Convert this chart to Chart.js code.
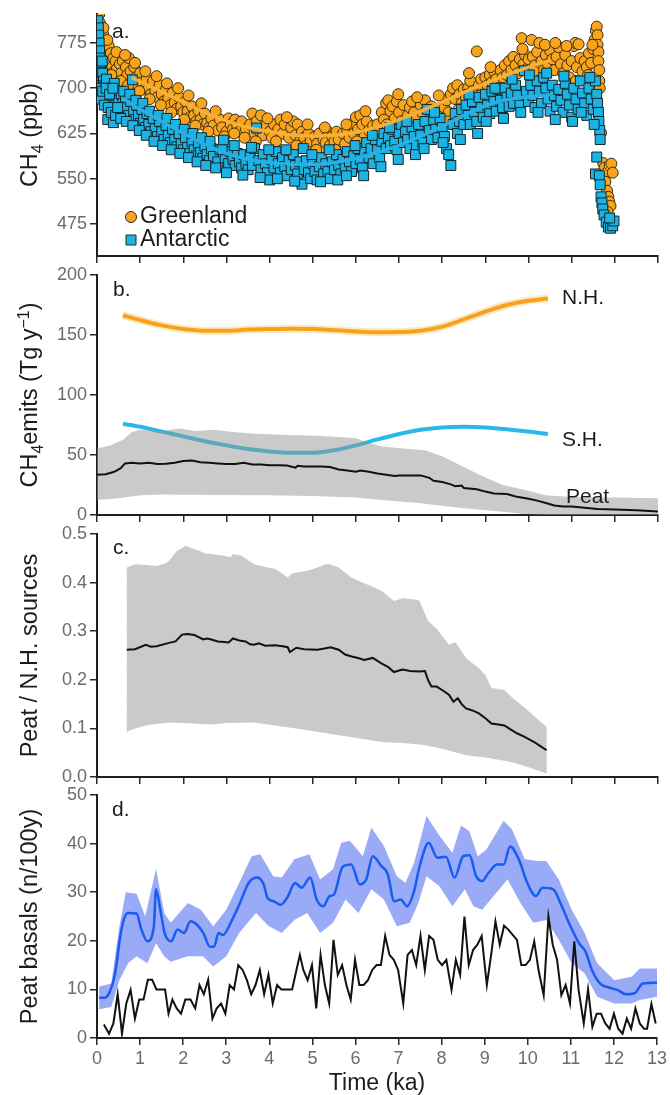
<!DOCTYPE html>
<html><head><meta charset="utf-8">
<script src="https://cdn.jsdelivr.net/npm/chart.js@4.4.1/dist/chart.umd.min.js"></script>
<style>
html,body{margin:0;padding:0;background:#fff;}
body{width:670px;height:1095px;overflow:hidden;position:relative;}
.p{position:absolute;left:0;}
</style></head>
<body>
<canvas id="ca" class="p" width="670" height="280" style="top:-4px"></canvas>
<canvas id="cb" class="p" width="670" height="278" style="top:257px"></canvas>
<canvas id="cc" class="p" width="670" height="281" style="top:516px"></canvas>
<canvas id="cd" class="p" width="670" height="318" style="top:777px"></canvas>
<script>
const FONT = '"Liberation Sans", Arial, Helvetica, sans-serif';
// ---------- tick values ----------
const xTickVals = [0,1,2,3,4,5,6,7,8,9,10,11,12,13];
const aTicks = [475,550,625,700,775];
const bTicks = [0,50,100,150,200];
const cTicks = [0,0.1,0.2,0.3,0.4,0.5];
const dTicks = [0,10,20,30,40,50];

// ---------- panel a: CH4 (ppb) ----------
const greenland = [[0.05,822],[0.07,808],[0.09,795],[0.1,782],[0.12,770],[0.14,790],[0.16,760],[0.18,775],[0.2,752],[0.22,765],[0.25,745],[0.27,770],[0.3,740],[0.32,758],[0.35,735],[0.38,750],[0.4,728],[0.43,745],[0.46,732],[0.5,718],[0.53,740],[0.56,725],[0.6,745],[0.63,715],[0.67,735],[0.7,722],[0.74,750],[0.78,728],[0.82,712],[0.86,735],[0.9,718],[0.95,705],[1.0,725],[1.05,710],[1.1,698],[1.15,715],[1.2,700],[1.25,690],[1.3,712],[1.35,695],[1.4,685],[1.45,705],[1.5,690],[1.55,678],[1.6,698],[1.65,683],[1.7,672],[1.75,692],[1.8,676],[1.85,666],[1.9,685],[1.95,670],[2.0,660],[2.05,678],[2.1,662],[2.15,652],[2.2,670],[2.25,655],[2.3,645],[2.35,663],[2.4,648],[2.45,640],[2.5,658],[2.55,642],[2.6,635],[2.65,650],[2.7,638],[2.8,630],[2.85,648],[2.9,635],[3.0,628],[3.05,650],[3.1,640],[3.15,632],[3.2,648],[3.25,638],[3.3,628],[3.35,645],[3.45,632],[3.55,640],[3.6,658],[3.65,625],[3.7,645],[3.75,630],[3.8,655],[3.85,622],[3.9,638],[4.0,628],[4.05,618],[4.1,640],[4.2,632],[4.25,648],[4.3,625],[4.35,640],[4.45,618],[4.5,635],[4.55,645],[4.6,622],[4.65,640],[4.7,612],[4.75,628],[4.8,618],[4.85,605],[4.9,625],[4.95,612],[5.0,590],[5.05,620],[5.1,608],[5.15,625],[5.2,600],[5.25,615],[5.3,610],[5.35,628],[5.4,605],[5.45,620],[5.5,612],[5.55,628],[5.6,615],[5.7,625],[5.75,608],[5.8,630],[5.85,618],[5.9,640],[5.95,625],[6.0,652],[6.05,632],[6.1,655],[6.15,640],[6.2,620],[6.25,645],[6.3,630],[6.4,638],[6.45,622],[6.5,640],[6.55,628],[6.6,660],[6.65,648],[6.7,675],[6.75,680],[6.8,662],[6.85,670],[6.9,650],[6.95,678],[7.0,660],[7.05,645],[7.1,672],[7.2,655],[7.25,668],[7.3,678],[7.35,660],[7.4,650],[7.5,672],[7.55,658],[7.6,680],[7.65,665],[7.7,648],[7.75,670],[7.8,655],[7.85,640],[7.9,665],[8.0,650],[8.05,668],[8.1,680],[8.15,660],[8.2,690],[8.25,700],[8.3,682],[8.35,705],[8.4,690],[8.45,675],[8.5,698],[8.55,685],[8.6,700],[8.65,712],[8.7,695],[8.8,761],[8.85,705],[8.9,715],[8.95,700],[9.0,718],[9.05,705],[9.1,722],[9.15,710],[9.2,728],[9.25,715],[9.3,700],[9.35,730],[9.4,718],[9.45,738],[9.5,722],[9.55,745],[9.6,730],[9.65,752],[9.7,738],[9.75,725],[9.8,748],[9.84,783],[9.88,740],[9.92,755],[9.96,732],[10.0,748],[10.07,780],[10.1,752],[10.15,738],[10.2,760],[10.25,775],[10.3,745],[10.35,730],[10.4,755],[10.45,740],[10.5,762],[10.55,748],[10.6,730],[10.65,752],[10.7,768],[10.75,740],[10.8,725],[10.85,755],[10.9,738],[10.95,718],[11.0,745],[11.05,770],[11.08,775],[11.12,735],[11.16,773],[11.2,750],[11.25,728],[11.3,745],[11.35,735],[11.4,758],[11.45,742],[11.5,765],[11.53,780],[11.56,795],[11.58,802],[11.6,788],[11.6,772],[11.62,760],[11.62,745],[11.64,730],[11.64,712],[11.65,700],[11.68,626],[11.73,576],[11.76,568],[11.8,558],[11.84,562],[11.88,572],[11.92,575],[11.95,560],[11.78,545],[11.82,530],[11.85,520],[11.87,512],[11.9,505],[11.83,495],
  [0.15,800],[0.24,780],[0.33,722],[0.45,760],[0.55,712],[0.65,755],[0.72,705],[0.88,742],[0.98,695],[1.12,728],[1.22,682],[1.38,720],[1.48,672],[1.62,708],[1.72,660],[1.88,700],[2.02,648],[2.12,688],[2.28,638],[2.42,675],[2.58,628],[2.75,662],[2.95,620],[3.18,625],[3.42,618],[3.68,612],[3.95,650],[4.15,612],[4.4,652],[4.62,605],[4.88,640],[5.08,598],[5.28,635],[5.52,598],[5.78,640],[6.02,612],[6.22,662],[6.48,612],[6.72,640],[6.98,690],[7.18,640],[7.42,685],[7.68,632],[7.92,688],[8.12,645],[8.38,665],[8.62,725],[8.88,688],[9.12,735],[9.38,700],[9.62,712],[9.86,765],[10.12,728],[10.38,772],[10.62,775],[10.88,770],[11.1,712],[11.38,722],[11.48,772]];
const antarctic = [[0.02,812],[0.03,800],[0.04,788],[0.05,775],[0.06,762],[0.07,750],[0.08,738],[0.09,726],[0.1,715],[0.11,705],[0.12,745],[0.13,725],[0.14,698],[0.15,712],[0.16,690],[0.18,705],[0.2,688],[0.22,715],[0.24,695],[0.25,648],[0.27,680],[0.3,700],[0.32,690],[0.34,675],[0.36,685],[0.38,643],[0.4,708],[0.42,690],[0.44,672],[0.47,695],[0.5,680],[0.53,665],[0.56,690],[0.6,675],[0.63,660],[0.66,685],[0.7,668],[0.74,655],[0.78,678],[0.82,714],[0.85,662],[0.88,648],[0.92,672],[0.96,655],[1.0,642],[1.04,665],[1.08,648],[1.12,635],[1.16,658],[1.2,640],[1.25,628],[1.3,650],[1.35,633],[1.4,620],[1.45,645],[1.5,628],[1.55,615],[1.6,638],[1.65,622],[1.7,610],[1.75,632],[1.8,615],[1.85,603],[1.9,625],[1.95,608],[2.0,598],[2.05,618],[2.1,602],[2.15,592],[2.2,612],[2.25,598],[2.3,588],[2.35,608],[2.4,594],[2.45,584],[2.5,604],[2.55,590],[2.6,580],[2.65,600],[2.7,587],[2.8,578],[2.85,598],[2.93,614],[2.97,585],[3.05,575],[3.1,595],[3.15,582],[3.2,572],[3.25,592],[3.3,578],[3.35,568],[3.4,590],[3.45,575],[3.5,565],[3.55,588],[3.6,572],[3.65,600],[3.7,634],[3.75,580],[3.8,565],[3.85,590],[3.9,575],[3.95,560],[4.0,548],[4.05,582],[4.1,568],[4.15,595],[4.2,575],[4.25,560],[4.3,585],[4.35,570],[4.4,555],[4.45,580],[4.5,565],[4.55,590],[4.6,572],[4.65,558],[4.7,578],[4.75,541],[4.8,565],[4.85,580],[4.9,560],[4.95,550],[5.0,575],[5.05,562],[5.1,548],[5.15,570],[5.2,585],[5.25,558],[5.3,575],[5.35,562],[5.4,550],[5.45,578],[5.5,565],[5.55,590],[5.6,572],[5.65,558],[5.7,582],[5.75,568],[5.8,595],[5.85,578],[5.9,562],[5.95,588],[6.0,575],[6.05,600],[6.1,582],[6.15,568],[6.2,595],[6.25,610],[6.3,585],[6.35,600],[6.4,575],[6.45,615],[6.5,598],[6.55,585],[6.6,612],[6.65,625],[6.7,600],[6.75,618],[6.8,605],[6.85,632],[6.9,612],[6.95,598],[7.0,625],[7.05,640],[7.1,610],[7.15,628],[7.2,615],[7.25,600],[7.3,635],[7.35,620],[7.4,605],[7.45,640],[7.5,622],[7.55,610],[7.6,645],[7.65,665],[7.7,630],[7.75,615],[7.8,648],[7.85,632],[7.9,618],[7.95,650],[8.0,635],[8.05,620],[8.1,600],[8.15,590],[8.2,572],[8.25,640],[8.3,658],[8.35,625],[8.4,645],[8.45,665],[8.5,640],[8.55,672],[8.6,655],[8.65,640],[8.7,678],[8.75,660],[8.8,645],[8.85,685],[8.9,668],[8.95,652],[9.0,690],[9.05,672],[9.1,658],[9.15,695],[9.2,678],[9.25,662],[9.3,698],[9.35,680],[9.4,668],[9.45,700],[9.5,685],[9.55,670],[9.6,692],[9.65,675],[9.7,705],[9.75,688],[9.8,672],[9.9,729],[9.95,695],[10.0,678],[10.05,705],[10.1,688],[10.15,668],[10.2,712],[10.25,695],[10.3,675],[10.35,718],[10.4,700],[10.45,682],[10.5,662],[10.55,705],[10.6,688],[10.65,670],[10.7,698],[10.75,680],[10.8,660],[10.85,708],[10.9,690],[10.95,672],[11.0,652],[11.05,700],[11.1,682],[11.15,665],[11.2,712],[11.25,692],[11.3,675],[11.35,655],[11.4,700],[11.45,682],[11.5,665],[11.55,712],[11.58,690],[11.6,675],[11.62,660],[11.63,645],[11.65,630],[11.66,615],[11.58,586],[11.55,558],[11.64,555],[11.66,540],[11.68,520],[11.7,510],[11.72,500],[11.75,490],[11.8,478],[11.85,470],[11.9,468],[11.95,472],[11.98,480],[11.88,485],
  [0.05,700],[0.08,690],[0.1,682],[0.13,695],[0.17,672],[0.21,700],[0.26,668],[0.29,690],[0.33,660],[0.37,700],[0.43,655],[0.48,668],[0.55,650],[0.62,695],[0.68,645],[0.76,690],[0.83,638],[0.9,680],[0.98,630],[1.06,675],[1.14,622],[1.22,662],[1.32,612],[1.42,655],[1.52,605],[1.62,650],[1.72,598],[1.82,640],[1.92,592],[2.02,632],[2.12,585],[2.22,625],[2.32,578],[2.42,618],[2.52,572],[2.62,612],[2.75,568],[2.9,598],[3.0,560],[3.18,605],[3.38,556],[3.58,602],[3.78,552],[3.98,598],[4.18,550],[4.38,598],[4.58,546],[4.78,600],[4.98,590],[5.18,545],[5.38,598],[5.58,548],[5.78,555],[5.98,605],[6.18,555],[6.38,622],[6.58,570],[6.78,635],[6.98,582],[7.18,645],[7.38,590],[7.58,600],[7.82,660],[8.02,610],[8.42,615],[8.62,690],[8.82,625],[9.02,645],[9.22,700],[9.42,650],[9.62,715],[9.82,660],[10.02,722],[10.22,660],[10.42,725],[10.62,648],[10.82,720],[11.02,645],[11.22,660],[11.42,718],[11.52,640]];
const greenFit = [[0.8,718],[1.0,711],[1.5,694],[2.0,677],[2.5,660],[3.0,646],[3.5,635],[4.0,628],[4.5,623],[5.0,621],[5.5,622],[6.0,627],[6.5,636],[7.0,648],[7.5,662],[8.0,677],[8.5,693],[9.0,708],[9.5,722],[10.0,735],[10.5,746]];
const antFit = [[0.6,683],[1.0,665],[1.5,645],[2.0,625],[2.5,607],[3.0,592],[3.5,582],[4.0,577],[4.5,574],[5.0,574],[5.5,577],[6.0,584],[6.5,594],[7.0,605],[7.5,620],[8.0,637],[8.5,655],[9.0,671],[9.5,681],[10.0,686],[10.5,689]];

// ---------- panel b: CH4 emissions (Tg/y) ----------
const nhEmit = [[0.6,166.5],[1.0,162.5],[1.5,158],[2.0,155],[2.5,153.5],[3.0,153.5],[3.5,154.5],[4.0,155],[4.5,155.3],[5.0,155],[5.5,154],[6.0,153],[6.5,152.3],[7.0,152.5],[7.5,153.5],[8.0,157],[8.5,163],[9.0,169.5],[9.5,175],[10.0,178.5],[10.45,180.5]];
const shEmit = [[0.6,76],[1.0,73.5],[1.5,69.5],[2.0,65.5],[2.5,61.5],[3.0,58],[3.5,55],[4.0,53],[4.5,51.8],[5.0,51.8],[5.5,54],[6.0,58],[6.5,63],[7.0,67.5],[7.5,71],[8.0,73],[8.5,73.5],[9.0,73],[9.5,71.5],[10.0,69.5],[10.45,67.5]];
const peatEmit = [[0,33.5],[0.2,34],[0.4,36],[0.55,39],[0.65,43],[0.8,43.5],[1.0,43],[1.2,43.5],[1.4,42.5],[1.6,42.8],[1.8,43.5],[2.0,45],[2.2,45.5],[2.4,44],[2.6,43.5],[2.8,43],[3.0,42.5],[3.2,42.5],[3.4,43.5],[3.6,42],[3.8,42],[4.0,41.5],[4.2,41.5],[4.4,41.2],[4.6,39.5],[4.65,41],[4.8,40.5],[5.0,40.5],[5.2,40.5],[5.4,40],[5.6,38],[5.8,37],[6.0,36],[6.1,37],[6.3,36],[6.5,34.5],[6.7,33.5],[6.9,32.5],[7.0,33],[7.3,33],[7.5,33],[7.7,31],[7.8,28.5],[8.0,27.5],[8.2,25.5],[8.3,24],[8.45,24.5],[8.5,22.5],[8.8,21.5],[9.0,19.5],[9.2,18],[9.5,17.5],[9.7,15.5],[10.0,13.5],[10.2,12],[10.4,10],[10.6,8],[10.8,7],[11.0,7],[11.3,6],[11.6,5],[12,4.5],[12.5,4],[13,3]];
const peatEmitHi = [[0,55.5],[0.3,58],[0.6,62.5],[0.8,69],[1.0,71],[1.5,70],[1.9,72],[2.3,70],[2.7,71],[3.2,69],[3.6,68],[4.1,67],[4.6,66.5],[5.1,66],[5.6,65],[6.0,64],[6.3,60],[6.6,57],[7.1,55.5],[7.6,54],[8.0,49],[8.5,40],[8.9,33],[9.4,25],[9.9,21],[10.4,16.5],[11,15],[12,14.5],[13,14]];
const peatEmitLo = [[0,12.5],[0.5,14],[1,16.5],[1.5,17],[2,16.8],[3,16.7],[4,16.5],[5,15.8],[6,14.5],[6.6,12.5],[7.5,9.8],[8.5,5.6],[9.4,2.8],[9.9,0.8],[10.4,0],[13,0]];

// ---------- panel c: Peat / N.H. sources ----------
const ratio = [[0.69,0.262],[0.88,0.263],[1.13,0.272],[1.25,0.268],[1.38,0.269],[1.67,0.276],[1.82,0.279],[1.97,0.293],[2.1,0.294],[2.26,0.292],[2.46,0.283],[2.55,0.285],[2.65,0.283],[2.8,0.279],[2.95,0.278],[3.05,0.277],[3.15,0.285],[3.3,0.281],[3.44,0.279],[3.55,0.273],[3.64,0.272],[3.75,0.275],[3.9,0.270],[4.13,0.271],[4.3,0.269],[4.42,0.267],[4.47,0.257],[4.62,0.266],[4.8,0.263],[5.11,0.262],[5.3,0.265],[5.41,0.267],[5.6,0.262],[5.75,0.252],[5.9,0.248],[6.05,0.245],[6.19,0.241],[6.39,0.245],[6.59,0.234],[6.75,0.226],[6.88,0.216],[7.08,0.221],[7.25,0.218],[7.47,0.217],[7.6,0.218],[7.67,0.200],[7.75,0.186],[7.87,0.186],[8.05,0.176],[8.16,0.169],[8.26,0.155],[8.36,0.162],[8.45,0.150],[8.55,0.141],[8.7,0.137],[8.85,0.131],[9.0,0.121],[9.14,0.110],[9.3,0.108],[9.44,0.106],[9.6,0.097],[9.73,0.090],[9.9,0.083],[10.13,0.072],[10.3,0.062],[10.42,0.055]];
const ratioHi = [[0.69,0.431],[0.88,0.438],[1.13,0.436],[1.38,0.434],[1.6,0.440],[1.67,0.445],[1.85,0.465],[2.06,0.476],[2.2,0.470],[2.36,0.466],[2.5,0.460],[2.65,0.459],[2.95,0.455],[3.1,0.452],[3.15,0.459],[3.35,0.455],[3.64,0.438],[3.9,0.432],[4.13,0.428],[4.3,0.418],[4.42,0.410],[4.5,0.418],[4.62,0.421],[4.9,0.425],[5.11,0.431],[5.3,0.438],[5.41,0.437],[5.6,0.431],[5.9,0.410],[6.2,0.398],[6.35,0.393],[6.59,0.383],[6.88,0.362],[7.1,0.368],[7.35,0.365],[7.47,0.363],[7.67,0.321],[7.87,0.305],[8.0,0.290],[8.16,0.272],[8.3,0.278],[8.4,0.265],[8.55,0.245],[8.85,0.224],[9.0,0.210],[9.14,0.183],[9.44,0.179],[9.6,0.165],[9.93,0.141],[10.2,0.120],[10.42,0.103]];
const ratioLo = [[0.69,0.093],[0.88,0.100],[1.18,0.107],[1.67,0.112],[2.2,0.110],[2.65,0.108],[3.0,0.111],[3.64,0.112],[4.2,0.105],[4.62,0.100],[5.1,0.093],[5.6,0.086],[6.1,0.079],[6.59,0.072],[7.1,0.070],[7.57,0.066],[8.0,0.058],[8.55,0.045],[9.0,0.040],[9.6,0.031],[10.0,0.020],[10.42,0.007]];

// ---------- panel d: Peat basals (n/100y) ----------
const basalsSmooth = [[0.05,8.3],[0.18,8.3],[0.28,9.2],[0.42,13.3],[0.54,20.9],[0.62,24.3],[0.72,25.7],[0.92,25.6],[1.02,22.6],[1.17,19.9],[1.32,23],[1.37,30.6],[1.47,26.4],[1.57,21.6],[1.72,19.9],[1.87,22.3],[2.02,21.6],[2.17,24],[2.32,23.3],[2.47,21.6],[2.62,18.8],[2.72,18.8],[2.82,21.6],[2.92,21.2],[3.12,24],[3.32,27.8],[3.52,31.9],[3.72,33],[3.87,31.6],[3.96,28.8],[4.11,28.1],[4.26,27.4],[4.41,28.8],[4.6,31.9],[4.75,30.9],[4.95,33],[5.1,28.5],[5.25,27.1],[5.4,29.2],[5.5,29.5],[5.7,35.2],[5.9,35.7],[6.1,31.6],[6.25,32.6],[6.4,37.4],[6.6,35.4],[6.75,33.7],[6.9,28.1],[7.05,28.5],[7.2,27.1],[7.35,29.9],[7.5,35.7],[7.7,40.2],[7.9,37.1],[8.1,37.3],[8.3,33],[8.5,37.4],[8.65,37.6],[8.8,33.3],[8.94,32.3],[9.09,34],[9.29,35.7],[9.44,35.7],[9.59,39.4],[9.79,36.8],[9.99,31.9],[10.19,29.2],[10.34,30.9],[10.59,30.6],[10.79,27.1],[10.99,23],[11.19,19.5],[11.34,17.8],[11.49,14],[11.68,11.2],[11.88,10.4],[12.08,9.9],[12.28,9],[12.48,9.2],[12.67,11.2],[13.0,11.4]];
const basalsHi = [[0.05,10.6],[0.33,11.2],[0.52,23],[0.67,30],[0.92,29.7],[1.12,25],[1.37,34.8],[1.56,25.7],[1.71,23.7],[2.11,27.8],[2.41,26.4],[2.7,23],[3.0,26.4],[3.3,31.9],[3.59,37.4],[3.79,37.8],[4.09,33.3],[4.29,33],[4.58,36.8],[4.93,37.8],[5.18,32.6],[5.48,34.7],[5.67,40.2],[5.87,40.6],[6.17,37.4],[6.37,43.3],[6.66,39.5],[6.96,33.3],[7.16,31.9],[7.36,36],[7.65,45.7],[7.95,41.6],[8.25,38.1],[8.45,43.7],[8.64,42.6],[8.84,37.4],[9.04,38.8],[9.44,44.7],[9.63,43],[9.93,36.8],[10.23,36.4],[10.43,36.4],[10.72,32.6],[11.02,26.4],[11.32,21.6],[11.61,15.4],[12.01,11.9],[12.41,12.6],[12.6,14.3],[13,14.3]];
const basalsLo = [[0.05,5.9],[0.33,6.4],[0.52,11.9],[0.72,15.4],[0.92,16.8],[1.17,15.4],[1.37,19.5],[1.56,16.8],[1.71,15.7],[2.11,16.8],[2.46,16.8],[2.7,14.7],[3.0,16.8],[3.3,21.6],[3.69,25.7],[3.99,23],[4.29,21.6],[4.58,24.3],[4.88,25.7],[5.18,21.6],[5.48,23.7],[5.77,28.5],[6.07,25.7],[6.37,30.6],[6.66,28.5],[6.96,23],[7.26,23.7],[7.46,27.8],[7.65,33.3],[7.95,31.2],[8.25,27.1],[8.54,30.6],[8.74,27.1],[8.94,26.4],[9.14,28.5],[9.53,32.6],[9.83,27.8],[10.13,23.7],[10.43,24.3],[10.72,20.2],[11.02,15.4],[11.32,13.3],[11.61,8.5],[12.01,7.1],[12.41,7.1],[12.6,7.8],[13,8.5]];
const basalsCount = [[0.16,2.8],[0.28,0.9],[0.38,3],[0.48,9],[0.58,0.9],[0.68,7.1],[0.78,9.9],[0.88,4],[0.98,7.9],[1.08,7.9],[1.18,12],[1.28,12],[1.38,10],[1.48,10],[1.58,10],[1.66,5],[1.75,7.9],[1.85,6.1],[1.95,5],[2.05,7.9],[2.17,7.9],[2.28,6.1],[2.38,10.9],[2.48,9],[2.58,12],[2.68,4],[2.78,6.1],[2.88,7.1],[2.98,5],[3.08,10.9],[3.18,10],[3.28,15],[3.38,14],[3.48,11.9],[3.58,9],[3.68,10.9],[3.78,14],[3.88,9],[3.98,13],[4.08,7.1],[4.18,10.9],[4.28,10],[4.43,10],[4.53,10],[4.63,14],[4.71,17.1],[4.79,14],[4.89,11.9],[4.99,15],[5.09,6.1],[5.19,17.1],[5.29,10.9],[5.39,7.1],[5.49,20.2],[5.59,13],[5.69,15],[5.79,10.9],[5.89,7.9],[5.99,16.1],[6.09,10.9],[6.19,10.9],[6.29,11.9],[6.39,14],[6.49,15],[6.59,15],[6.69,21],[6.79,17.1],[6.89,16.1],[6.99,14],[7.11,7.1],[7.21,17.1],[7.31,18.1],[7.41,15],[7.51,21],[7.61,14],[7.71,21],[7.81,20.2],[7.91,16.1],[8.01,15],[8.11,16.1],[8.23,9.9],[8.33,16.1],[8.43,13],[8.53,25],[8.63,15],[8.73,18.1],[8.83,19.2],[8.93,21],[9.05,10.9],[9.15,17.1],[9.25,24],[9.35,19.2],[9.45,23.1],[9.55,22.3],[9.65,21.2],[9.75,20.2],[9.85,15],[9.95,15],[10.05,16.1],[10.15,19.9],[10.25,14],[10.37,8.8],[10.48,25],[10.58,19.2],[10.68,16.1],[10.78,8.8],[10.88,10.9],[10.98,7.1],[11.08,19.9],[11.18,9.9],[11.3,3],[11.4,10],[11.5,2.3],[11.6,5],[11.7,5],[11.8,3],[11.9,1.9],[12.0,5],[12.1,1.9],[12.2,0.9],[12.3,4],[12.4,1.9],[12.5,6.1],[12.6,3],[12.7,1.9],[12.77,1.9],[12.87,7],[12.97,3]];

// ---------- helpers ----------
const xy = a => a.map(([x,y]) => ({x, y}));
const band = (hi, lo) => xy(hi.concat(lo.slice().reverse()));

function richWidth(ctx, segs, size){
  let w = 0;
  segs.forEach(s => { ctx.font = `${(s.sub||s.sup)?size*0.68:size}px ${FONT}`; w += ctx.measureText(s.t).width; });
  return w;
}
const decor = {
  id: 'decor',
  afterDatasetsDraw(chart, args, o){
    const ctx = chart.ctx, off = o.top, ca = chart.chartArea;
    ctx.save();
    ctx.fillStyle = '#1c1c1c';
    ctx.textAlign = 'left';
    ctx.textBaseline = 'middle';
    (o.texts || []).forEach(t => {
      ctx.font = `${t.size}px ${FONT}`;
      ctx.fillText(t.t, t.x, t.y - off);
    });
    (o.legend || []).forEach(l => {
      const y = l.y - off;
      ctx.fillStyle = l.color; ctx.strokeStyle = '#2b2b2b'; ctx.lineWidth = 1;
      ctx.beginPath();
      if (l.style === 'circle') ctx.arc(l.mx, y, 5.5, 0, Math.PI*2);
      else ctx.rect(l.mx - 5, y - 5, 10, 10);
      ctx.fill(); ctx.stroke();
      ctx.fillStyle = '#1c1c1c';
      ctx.font = `${l.size}px ${FONT}`;
      ctx.fillText(l.label, l.tx, y);
    });
    if (o.ytitle){
      const size = o.ysize;
      const cy = (ca.top + ca.bottom) / 2;
      ctx.translate(o.yx, cy);
      ctx.rotate(-Math.PI/2);
      const w = richWidth(ctx, o.ytitle, size);
      let x = -w/2;
      ctx.textBaseline = 'alphabetic';
      const base = size*0.36;
      o.ytitle.forEach(s => {
        const fs = (s.sub||s.sup) ? size*0.68 : size;
        ctx.font = `${fs}px ${FONT}`;
        const dy = s.sub ? size*0.22 : (s.sup ? -size*0.36 : 0);
        ctx.fillText(s.t, x, base + dy);
        x += ctx.measureText(s.t).width;
      });
    }
    ctx.restore();
  }
};

function makeOptions(cfg){
  return {
    responsive: false, animation: false, devicePixelRatio: 1,
    layout: { padding: { top: cfg.padTop, bottom: cfg.padBottom, left: 0, right: 12 } },
    elements: { line: { tension: 0 } },
    plugins: { legend: { display: false }, tooltip: { enabled: false }, decor: cfg.decor },
    scales: {
      x: {
        type: 'linear', min: 0, max: 13,
        afterBuildTicks: s => { s.ticks = xTickVals.map(v => ({ value: v })); },
        afterFit: s => { s.height = cfg.xHeight; },
        grid: { drawOnChartArea: false, drawTicks: true, tickLength: 7, color: '#2a2a2a', lineWidth: 1.5 },
        border: { display: true, color: '#1f1f1f', width: 2 },
        ticks: { display: cfg.xLabels, color: '#6b6b6b', font: { size: 18, family: FONT }, padding: 3, maxRotation: 0, autoSkip: false },
        title: { display: cfg.xLabels, text: 'Time (ka)', color: '#1c1c1c', font: { size: 23, family: FONT, lineHeight: 1 }, padding: { top: 0, bottom: 0 } }
      },
      y: {
        type: 'linear', min: cfg.ymin, max: cfg.ymax,
        afterBuildTicks: s => { s.ticks = cfg.yticks.map(v => ({ value: v })); },
        afterFit: s => { s.width = 97; },
        grid: { drawOnChartArea: false, drawTicks: true, tickLength: 7, color: '#2a2a2a', lineWidth: 1.5 },
        border: { display: true, color: '#1f1f1f', width: 2 },
        ticks: { color: '#6b6b6b', font: { size: 18, family: FONT }, padding: 3, autoSkip: false,
                 callback: cfg.yfmt || (v => String(v)) }
      }
    }
  };
}
Chart.defaults.font.family = FONT;

// ---------- panel a ----------
new Chart(document.getElementById('ca'), {
  type: 'line',
  data: { datasets: [
    { data: xy(greenFit), borderColor: 'rgba(249,178,55,0.95)', borderWidth: 3.5, pointRadius: 0, cubicInterpolationMode: 'monotone' },
    { data: xy(antFit), borderColor: 'rgba(40,178,228,0.95)', borderWidth: 3.5, pointRadius: 0, cubicInterpolationMode: 'monotone' },
    { data: xy(antarctic), showLine: false, pointStyle: 'rect', pointRadius: 7, backgroundColor: '#1bb3e3', borderColor: '#15262c', borderWidth: 1 },
    { data: xy(greenland), showLine: false, pointStyle: 'circle', pointRadius: 5.5, backgroundColor: '#f8a51d', borderColor: '#3a2c12', borderWidth: 1 }
  ]},
  options: makeOptions({ padTop: 18, padBottom: 14, xHeight: 6, xLabels: false, ymin: 422, ymax: 823, yticks: aTicks,
    decor: { top: -4, yx: 29, ysize: 23.5,
      ytitle: [{t:'CH'},{t:'4',sub:true},{t:' (ppb)'}],
      texts: [{ t: 'a.', x: 112, y: 32, size: 21 }],
      legend: [
        { label: 'Greenland', style: 'circle', color: '#f8a51d', mx: 131, tx: 140, y: 217, size: 23 },
        { label: 'Antarctic', style: 'rect', color: '#1bb3e3', mx: 131, tx: 140, y: 240, size: 23 }
      ] } }),
  plugins: [decor]
});

// ---------- panel b ----------
new Chart(document.getElementById('cb'), {
  type: 'line',
  data: { datasets: [
    { data: xy(peatEmit), borderColor: '#111', borderWidth: 2, pointRadius: 0 },
    { data: band(peatEmitHi, peatEmitLo), borderWidth: 0, pointRadius: 0, backgroundColor: 'rgba(150,150,150,0.5)', fill: 'shape' },
    { data: xy(shEmit), borderColor: '#27b9e8', borderWidth: 4, pointRadius: 0, cubicInterpolationMode: 'monotone' },
    { data: xy(nhEmit), borderColor: '#f7a21b', borderWidth: 4, pointRadius: 0, cubicInterpolationMode: 'monotone' },
    { data: xy(nhEmit), borderColor: 'rgba(247,162,27,0.25)', borderWidth: 8, pointRadius: 0, cubicInterpolationMode: 'monotone' }
  ]},
  options: makeOptions({ padTop: 18, padBottom: 14, xHeight: 6, xLabels: false, ymin: 0, ymax: 200, yticks: bTicks,
    decor: { top: 257, yx: 29, ysize: 23.5,
      ytitle: [{t:'CH'},{t:'4',sub:true},{t:'emits (Tg y'},{t:'\u22121',sup:true},{t:')'}],
      texts: [{ t: 'b.', x: 113, y: 290, size: 21 }, { t: 'N.H.', x: 562, y: 298, size: 21 },
              { t: 'S.H.', x: 562, y: 440, size: 21 }, { t: 'Peat', x: 566, y: 497, size: 21 }] } }),
  plugins: [decor]
});

// ---------- panel c ----------
new Chart(document.getElementById('cc'), {
  type: 'line',
  data: { datasets: [
    { data: xy(ratio), borderColor: '#111', borderWidth: 2, pointRadius: 0 },
    { data: band(ratioHi, ratioLo), borderWidth: 0, pointRadius: 0, backgroundColor: 'rgba(150,150,150,0.5)', fill: 'shape' }
  ]},
  options: makeOptions({ padTop: 18, padBottom: 14, xHeight: 6, xLabels: false, ymin: 0, ymax: 0.5, yticks: cTicks,
    yfmt: v => Number(v).toFixed(1),
    decor: { top: 516, yx: 29, ysize: 23.5,
      ytitle: [{t:'Peat / N.H. sources'}],
      texts: [{ t: 'c.', x: 113, y: 548, size: 21 }] } }),
  plugins: [decor]
});

// ---------- panel d ----------
new Chart(document.getElementById('cd'), {
  type: 'line',
  data: { datasets: [
    { data: xy(basalsCount), borderColor: '#111', borderWidth: 2, pointRadius: 0 },
    { data: xy(basalsSmooth), borderColor: '#1a5cf0', borderWidth: 2.5, pointRadius: 0, cubicInterpolationMode: 'monotone' },
    { data: band(basalsHi, basalsLo), borderWidth: 0, pointRadius: 0, backgroundColor: 'rgba(70,100,240,0.55)', fill: 'shape' }
  ]},
  options: makeOptions({ padTop: 18, padBottom: 0, xHeight: 57, xLabels: true, ymin: 0, ymax: 50, yticks: dTicks,
    decor: { top: 777, yx: 29, ysize: 23.5,
      ytitle: [{t:'Peat basals (n/100y)'}],
      texts: [{ t: 'd.', x: 112, y: 810, size: 21 }] } }),
  plugins: [decor]
});
</script>
</body></html>
